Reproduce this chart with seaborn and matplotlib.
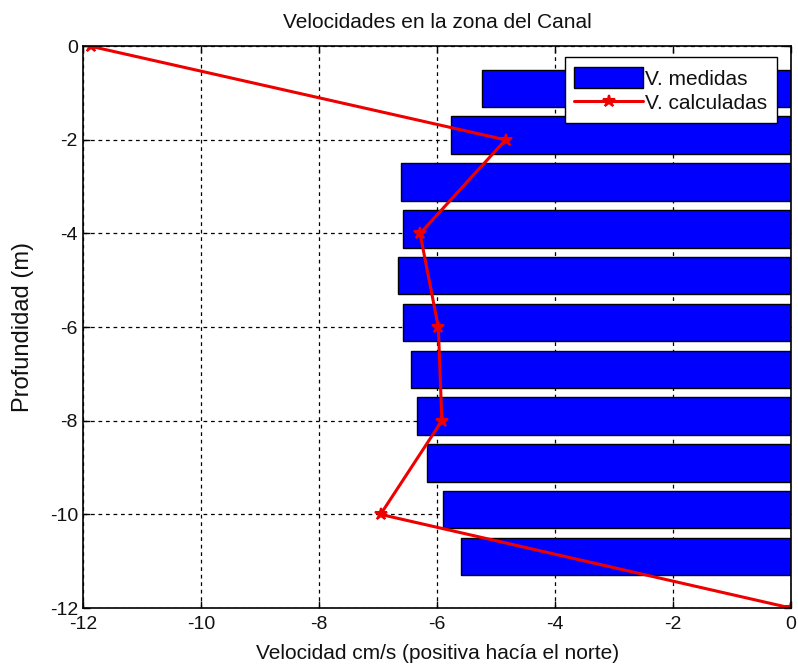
import matplotlib
matplotlib.use("Agg")
import matplotlib.pyplot as plt
import numpy as np
import pandas as pd
import seaborn as sns

# Measured velocities per 1 m depth bin (cm/s, positive northward)
prof_medidas = [-0.9, -1.9, -2.9, -3.9, -4.9, -5.9, -6.9, -7.9, -8.9, -9.9, -10.9]
v_medidas = [-5.24, -5.77, -6.61, -6.58, -6.67, -6.58, -6.44, -6.35, -6.18, -5.90, -5.60]

# Computed velocity profile
prof_calc = [0, -2, -4, -6, -8, -10, -12]
v_calc = [-11.88, -4.84, -6.29, -5.98, -5.92, -6.96, 0.0]

x_ticks = [-12, -10, -8, -6, -4, -2, 0]
y_ticks = [0, -2, -4, -6, -8, -10, -12]

sns.set_style("white")
plt.rcParams["font.family"] = ["Liberation Sans", "DejaVu Sans"]
plt.rcParams["text.color"] = "#111111"
plt.rcParams["axes.labelcolor"] = "#111111"

fig = plt.figure(figsize=(7.98, 6.70), dpi=100)
ax = fig.add_axes([0.1046, 0.0925, 0.8864, 0.8385])

df_m = pd.DataFrame({"v": v_medidas, "prof": prof_medidas})
df_c = pd.DataFrame({"v": v_calc, "prof": prof_calc})

sns.barplot(data=df_m, x="v", y="prof", orient="y", native_scale=True,
            width=0.8, color="#0000ff", saturation=1, errorbar=None,
            edgecolor="black", linewidth=1.0, label="V. medidas", ax=ax)

sns.lineplot(data=df_c, x="v", y="prof", sort=False, estimator=None,
             color="#ee0000", linewidth=2.2, marker="*", markersize=9,
             markeredgewidth=1.5, markeredgecolor="#ee0000",
             label="V. calculadas", ax=ax)

ax.set_xlim(-12, 0)
ax.set_ylim(-12, 0)
ax.set_xticks(x_ticks)
ax.set_yticks(y_ticks)
ax.set_xticklabels([str(t) for t in x_ticks], fontsize=14)
ax.set_yticklabels([str(t) for t in y_ticks], fontsize=14)

ax.set_axisbelow(True)
ax.grid(True, color="black", linestyle=(0, (3, 3)), linewidth=0.9)

for s in ax.spines.values():
    s.set_visible(True)
    s.set_color("black")
    s.set_linewidth(1.2)

ax.tick_params(axis="both", which="both", direction="in", length=5, width=1,
               top=True, right=True, bottom=True, left=True,
               colors="black", labelcolor="#111111")
ax.tick_params(axis="x", pad=6)
ax.tick_params(axis="y", pad=4)

ax.set_title("Velocidades en la zona del Canal", fontsize=15, pad=13)
ax.set_xlabel("Velocidad cm/s (positiva hacía el norte)", fontsize=15,
              labelpad=8)
ax.set_ylabel("Profundidad (m)", fontsize=17, labelpad=11)

handles, labels = ax.get_legend_handles_labels()
order = [labels.index("V. medidas"), labels.index("V. calculadas")]
leg = ax.legend([handles[i] for i in order], [labels[i] for i in order],
                loc="upper right", bbox_to_anchor=(0.980, 0.980), fontsize=15,
                frameon=True, fancybox=False, framealpha=1, edgecolor="black",
                handlelength=3.3, handleheight=1.2, handletextpad=0.1,
                borderpad=0.45, borderaxespad=0, labelspacing=0.15)
leg.get_frame().set_linewidth(1.0)

fig.savefig("out.png", dpi=100)
